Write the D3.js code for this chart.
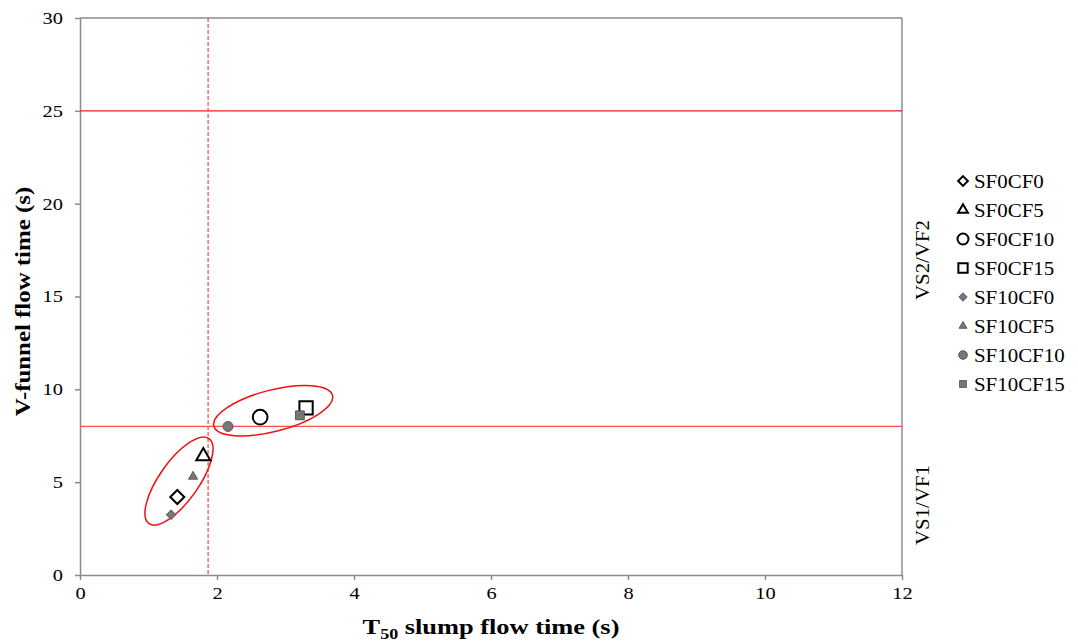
<!DOCTYPE html>
<html>
<head>
<meta charset="utf-8">
<script src="https://cdn.jsdelivr.net/npm/d3@7"></script>
<style>
  body { margin: 0; background: #fff; }
  svg text { font-family: "Liberation Serif", "Times New Roman", serif; }
</style>
</head>
<body>
<svg id="chart" width="1078" height="644"></svg>
<script>
// Mixes: T50 slump flow time (s) vs V-funnel flow time (s)
const seriesNames = ["SF0CF0", "SF0CF5", "SF0CF10", "SF0CF15", "SF10CF0", "SF10CF5", "SF10CF10", "SF10CF15"];
const t50Values   = [1.42, 1.80, 2.63, 3.30, 1.33, 1.65, 2.16, 3.21];
const vfunnelVals = [4.2, 6.4, 8.5, 9.0, 3.25, 5.3, 8.0, 8.6];
const markerShapes = ["diamond", "triangle", "circle", "square", "diamond", "triangle", "circle", "square"];
const markerFilled = [false, false, false, false, true, true, true, true];

const xTicks = [0, 2, 4, 6, 8, 10, 12];
const yTicks = [0, 5, 10, 15, 20, 25, 30];

// Class limits
const vfLimits = [25, 8];      // V-funnel class boundaries
const t50Limit = 1.87;         // VS1 / VS2 boundary

// Grouping ellipses: centre (x, y), semi-axes in px, rotation in degrees
const groupEllipses = [
  { cx: 1.445, cy: 5.06, rx: 52, ry: 19.7, rot: -54.8 },
  { cx: 2.82, cy: 8.85, rx: 61.3, ry: 20.7, rot: -14.5 }
];

const svg = d3.select("#chart");
const margin = { left: 80, right: 176, top: 18, bottom: 69 };
const W = 1078, H = 644;
const x = d3.scaleLinear().domain([0, 12]).range([margin.left, W - margin.right]);
const y = d3.scaleLinear().domain([0, 30]).range([H - margin.bottom, margin.top]);

const axisColor = "#8c8c8c";
const serif = "'Liberation Serif', 'Times New Roman', serif";
const SX = 1.2; // horizontal widening of the serif labels

// Plot frame (top and right)
svg.append("line").attr("x1", x(0)).attr("x2", x(12)).attr("y1", y(30)).attr("y2", y(30))
  .attr("stroke", axisColor).attr("stroke-width", 1.5);
svg.append("line").attr("x1", x(12)).attr("x2", x(12)).attr("y1", y(30)).attr("y2", y(0))
  .attr("stroke", axisColor).attr("stroke-width", 1.5);

// Axes
const xAxis = svg.append("g").attr("transform", `translate(0,${y(0)})`)
  .call(d3.axisBottom(x).tickValues(xTicks).tickSize(5).tickSizeOuter(0).tickFormat(d3.format("d")));
const yAxis = svg.append("g").attr("transform", `translate(${x(0)},0)`)
  .call(d3.axisLeft(y).tickValues(yTicks).tickSize(5).tickSizeOuter(0).tickFormat(d3.format("d")));
[xAxis, yAxis].forEach(g => {
  g.attr("font-family", serif);
  g.select(".domain").attr("stroke", axisColor).attr("stroke-width", 1.5);
  g.selectAll(".tick line").attr("stroke", axisColor).attr("stroke-width", 1.5);
  g.selectAll(".tick text").attr("fill", "#000").style("font-size", "17px")
    .style("font-family", serif);
});
xAxis.selectAll(".tick text").attr("dy", "0.9em").attr("y", 9).attr("transform", `scale(${SX},1)`);
yAxis.selectAll(".tick text").attr("x", -17 / SX).attr("transform", `scale(${SX},1)`);

// Class boundary lines
svg.append("line").attr("x1", x(0)).attr("x2", x(12)).attr("y1", y(vfLimits[0])).attr("y2", y(vfLimits[0]))
  .attr("stroke", "#e02020").attr("stroke-width", 1.2);
svg.append("line").attr("x1", x(0)).attr("x2", x(12)).attr("y1", y(vfLimits[1])).attr("y2", y(vfLimits[1]))
  .attr("stroke", "#ff5050").attr("stroke-width", 1.2);
svg.append("line").attr("x1", x(t50Limit)).attr("x2", x(t50Limit)).attr("y1", y(30)).attr("y2", y(0))
  .attr("stroke", "#ff5050").attr("stroke-width", 1.3).attr("stroke-dasharray", "4,2");

// Grouping ellipses
svg.selectAll("ellipse.group").data(groupEllipses).join("ellipse")
  .attr("class", "group")
  .attr("cx", 0).attr("cy", 0)
  .attr("rx", d => d.rx).attr("ry", d => d.ry)
  .attr("transform", d => `translate(${x(d.cx)},${y(d.cy)}) rotate(${d.rot})`)
  .attr("fill", "none").attr("stroke", "#ee1111").attr("stroke-width", 1.5);

// Marker symbols
const symbolType = { diamond: d3.symbolDiamond2, triangle: d3.symbolTriangle2, circle: d3.symbolCircle, square: d3.symbolSquare2 };
function markerPath(shape, filled) {
  const sizes = filled
    ? { diamond: 60, triangle: 60, circle: 80, square: 100 }
    : { diamond: 125, triangle: 140, circle: 170, square: 225 };
  return d3.symbol().type(symbolType[shape]).size(sizes[shape])();
}
function styleMarker(sel, filled) {
  sel.attr("fill", filled ? "#777777" : "#ffffff")
     .attr("stroke", filled ? "#444444" : "#000000")
     .attr("stroke-width", filled ? 0.8 : 2);
}

// Points: open markers first, filled drawn on top
const points = seriesNames.map((n, i) => ({ name: n, x: t50Values[i], y: vfunnelVals[i], shape: markerShapes[i], filled: markerFilled[i] }));
points.forEach(p => {
  const s = svg.append("path")
    .attr("d", markerPath(p.shape, p.filled))
    .attr("transform", `translate(${x(p.x)},${y(p.y)})`);
  styleMarker(s, p.filled);
});

// Region labels on the right
[["VS2/VF2", 260], ["VS1/VF1", 505]].forEach(([label, cy]) => {
  svg.append("text").attr("transform", `translate(929,${cy}) rotate(-90) scale(1.1,1)`)
    .attr("text-anchor", "middle").style("font-size", "19px").text(label);
});

// Legend
const legend = svg.append("g").attr("transform", "translate(963,181)");
points.forEach((p, i) => {
  const row = legend.append("g").attr("transform", `translate(0,${i * 29})`);
  const sz = p.filled
    ? { diamond: 45, triangle: 45, circle: 60, square: 60 }
    : { diamond: 60, triangle: 70, circle: 95, square: 110 };
  const lp = row.append("path").attr("d", d3.symbol().type(symbolType[p.shape]).size(sz[p.shape])());
  styleMarker(lp, p.filled);
  row.append("text").attr("transform", "translate(11,6.5) scale(1.1,1)")
    .style("font-size", "19px").text(p.name);
});

// Axis titles
svg.append("text")
  .attr("transform", `translate(${(x(0) + x(12)) / 2},634) scale(1.2,1)`)
  .attr("text-anchor", "middle").style("font-size", "22px").style("font-weight", "bold")
  .call(t => {
    t.append("tspan").text("T");
    t.append("tspan").attr("dy", 5).style("font-size", "15px").text("50");
    t.append("tspan").attr("dy", -5).text(" slump flow time (s)");
  });
svg.append("text").attr("transform", `translate(30,${(y(0) + y(30)) / 2 + 5}) rotate(-90) scale(1.13,1)`)
  .attr("text-anchor", "middle").style("font-size", "22px").style("font-weight", "bold")
  .text("V-funnel flow time (s)");
</script>
</body>
</html>
